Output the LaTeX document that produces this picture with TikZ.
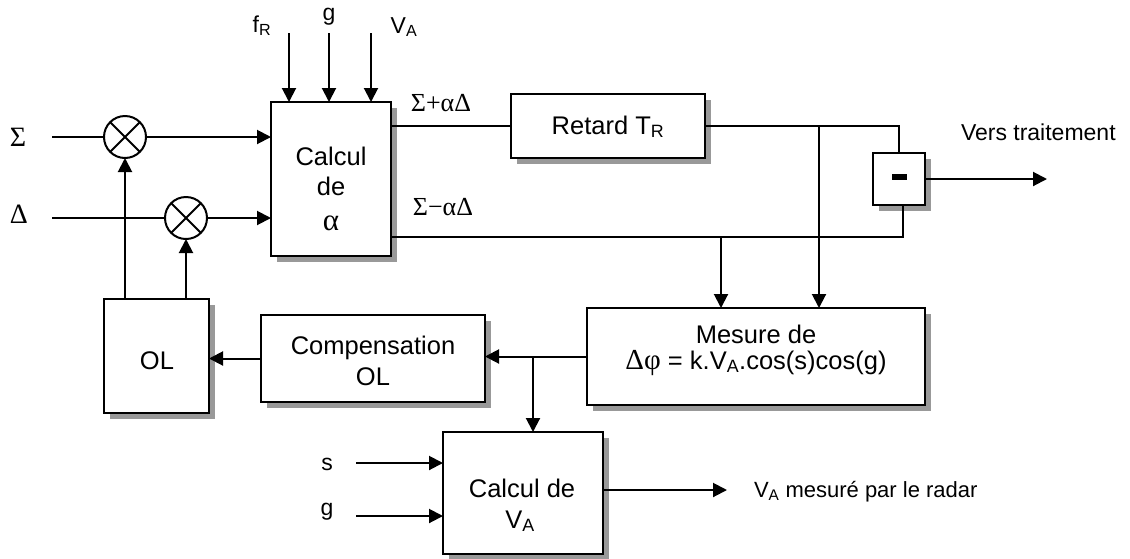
\documentclass[tikz,border=0pt]{standalone}
\usepackage{fontspec}
\setmainfont{Liberation Sans}
\newfontfamily\grk{Liberation Serif}
\usetikzlibrary{arrows.meta,shadows}
\begin{document}
\begin{tikzpicture}[x=1pt,y=-1pt,line width=2pt,
  blk/.style={draw=black, fill=white, line width=2pt, inner sep=0pt, outer sep=0pt,
    drop shadow={shadow xshift=6pt,shadow yshift=-6pt,fill=black!40,opacity=1}},
  arr/.style={-{Triangle[length=14pt,width=14pt]}},
  btxt/.style={inner sep=0pt, anchor=base, font=\fontsize{25.5}{30}\selectfont},
  lbl/.style={inner sep=0pt, anchor=base, font=\fontsize{23}{27}\selectfont},
  glbl/.style={inner sep=0pt, anchor=base, font=\fontsize{26}{30}\selectfont\grk},
  mult/.style={circle, draw=black, fill=white, line width=2pt, minimum size=42pt, inner sep=0pt, outer sep=0pt,
    path picture={\draw[line width=2pt] (path picture bounding box.north west) -- (path picture bounding box.south east)
      (path picture bounding box.north east) -- (path picture bounding box.south west);}}
]
\useasboundingbox (0,0) rectangle (1130,558);
% boxes
\node[blk, minimum width=120pt, minimum height=154pt] (calc) at (331,179) {};
\node[blk, minimum width=194pt, minimum height=64pt] (ret) at (608,126) {};
\node[blk, minimum width=52pt, minimum height=52pt] (sub) at (899,179) {};
\node[blk, minimum width=338pt, minimum height=97pt] (mes) at (756,356.5) {};
\node[blk, minimum width=224pt, minimum height=87pt] (comp) at (373,358.5) {};
\node[blk, minimum width=105pt, minimum height=114pt] (ol) at (156.5,356) {};
\node[blk, minimum width=160pt, minimum height=122pt] (cva) at (523,493) {};
% box texts
\node[btxt] (t1) at (331,165) {Calcul};
\node[btxt] (t2) at (331,195) {de};
\node[btxt, font=\fontsize{31}{34}\selectfont\grk] (t3) at (331,230) {α};
\node[btxt] (t4) at (608,134) {Retard T\textsubscript{R}};
\node[btxt] (t5) at (756,343) {Mesure de};
\node[btxt] (t6) at (756,369) {{\fontsize{29}{30}\selectfont\grk Δφ} = k.V\textsubscript{A}.cos(s)cos(g)};
\node[btxt] (t7) at (373,354) {Compensation};
\node[btxt] (t8) at (373,385) {OL};
\node[btxt] (t9) at (157,369) {OL};
\node[btxt] (t10) at (522,497) {Calcul de};
\node[btxt] (t11) at (520,528) {V\textsubscript{A}};
\fill (892,174) rectangle (907,180);
% multipliers
\node[mult] (m1) at (125,137) {};
\node[mult] (m2) at (186,218) {};
% labels
\node[glbl, font=\fontsize{28}{30}\selectfont\grk] (lS) at (18,146) {Σ};
\node[glbl, font=\fontsize{28}{30}\selectfont\grk] (lD) at (19,223) {Δ};
\node[glbl] (lp) at (441,111) {Σ+αΔ};
\node[glbl] (lm) at (443,215) {Σ−αΔ};
\node[lbl] (lf) at (262,32) {f\textsubscript{R}};
\node[lbl] (lg) at (329,20) {g};
\node[lbl] (lv) at (404,33) {V\textsubscript{A}};
\node[lbl, anchor=base west] (lvt) at (960,140) {Vers traitement};
\node[lbl, anchor=base west, font=\fontsize{22}{26}\selectfont] (lva) at (753,497) {V\textsubscript{A} mesuré par le radar};
\node[lbl] (ls) at (327,470) {s};
\node[lbl] (lg2) at (327,515) {g};
% coordinates
\coordinate (sIn) at (52,137);
\coordinate (dIn) at (52,218);
\coordinate (i1) at (289,33);
\coordinate (i2) at (329,33);
\coordinate (i3) at (371,33);
\coordinate (j1) at (819,126);
\coordinate (low) at (391,237);
\coordinate (lowE) at (903,237);
\coordinate (j2) at (721,237);
\coordinate (out1) at (1047,179);
\coordinate (j3) at (533,356.5);
\coordinate (sI) at (356,463);
\coordinate (gI) at (356,516);
\coordinate (out2) at (727,490);
% connectors
\draw (sIn) -- (m1);
\draw[arr] (m1) -- (calc.west |- m1);
\draw (dIn) -- (m2);
\draw[arr] (m2) -- (calc.west |- m2);
\draw[arr] (ol.north -| m1) -- (m1);
\draw[arr] (ol.north -| m2) -- (m2);
\draw[arr] (i1) -- (calc.north -| i1);
\draw[arr] (i2) -- (calc.north -| i2);
\draw[arr] (i3) -- (calc.north -| i3);
\draw (calc.east |- ret.west) -- (ret.west);
\draw (ret.east) -- (sub.north |- ret.east) -- (sub.north);
\draw[arr] (j1) -- (mes.north -| j1);
\draw (calc.east |- low) -- (lowE) -- (sub.south -| lowE);
\draw[arr] (j2) -- (mes.north -| j2);
\draw[arr] (sub.east) -- (out1);
\draw[arr] (mes.west) -- (comp.east |- mes.west);
\draw[arr] (comp.west) -- (ol.east |- comp.west);
\draw[arr] (j3) -- (cva.north -| j3);
\draw[arr] (sI) -- (cva.west |- sI);
\draw[arr] (gI) -- (cva.west |- gI);
\draw[arr] (cva.east |- out2) -- (out2);
\end{tikzpicture}
\end{document}
